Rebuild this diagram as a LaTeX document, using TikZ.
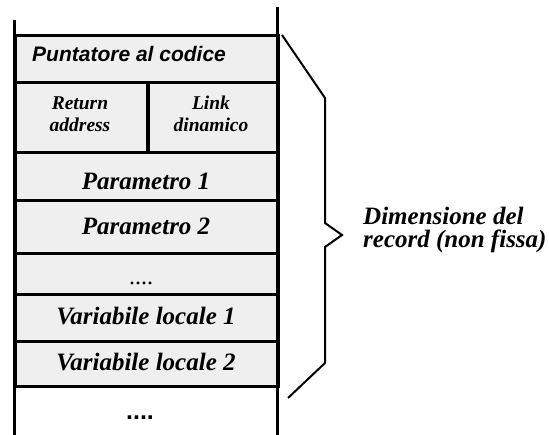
\documentclass[tikz,border=0pt]{standalone}
\usepackage{fontspec}
\setmainfont{Liberation Serif}
\newfontfamily\arialf{Liberation Sans}
\definecolor{cellgray}{HTML}{EFEFEF}
\begin{document}
\begin{tikzpicture}[x=1pt,y=-1pt,
  cell/.style={draw=black, line width=2.6pt, fill=cellgray, inner sep=0pt, anchor=north west},
  wall/.style={line width=3pt, line cap=rect},
  brace/.style={line width=2pt, line join=miter},
  lbl/.style={inner sep=0pt, anchor=base, font=\fontsize{25}{28}\selectfont\bfseries\itshape},
  small/.style={inner sep=0pt, anchor=base, align=center, font=\fontsize{19.5}{22}\selectfont\bfseries\itshape},
  side/.style={inner sep=0pt, anchor=base west, font=\fontsize{25}{28}\selectfont\bfseries\itshape}]
\useasboundingbox (0,0) rectangle (549,435);
% rows
\node[cell, minimum width=263pt, minimum height=47pt] (punt) at (14,34) {};
\node[cell, minimum width=133pt, minimum height=70pt] (ret) at (14,81) {};
\node[cell, minimum width=130pt, minimum height=70pt] (link) at (147,81) {};
\node[cell, minimum width=263pt, minimum height=48pt] (p1) at (14,151) {};
\node[cell, minimum width=263pt, minimum height=53pt] (p2) at (14,199) {};
\node[cell, minimum width=263pt, minimum height=41pt] (dd) at (14,252) {};
\node[cell, minimum width=263pt, minimum height=47pt] (v1) at (14,293) {};
\node[cell, minimum width=263pt, minimum height=45pt] (v2) at (14,340) {};
% divider extension
\coordinate (divtop) at (147,81);
\coordinate (divbot) at (147,154);
\draw[line width=2.6pt] (divtop) -- (divbot);
% outer walls
\coordinate (lt) at (14,22);
\coordinate (lb) at (14,435);
\coordinate (rt) at (277,9);
\coordinate (rb) at (277,435);
\draw[wall] (lt) -- (lb);
\draw[wall] (rt) -- (rb);
% labels
\node[inner sep=0pt, anchor=base west, font=\fontsize{21}{24}\selectfont\arialf\bfseries\itshape] (tpunt) at (32,62) {Puntatore al codice};
\node[small] (tret) at (80,110) {Return};
\node[small] (tret2) at (80,132) {address};
\node[small] (tlink) at (211,110) {Link};
\node[small] (tlink2) at (211,132) {dinamico};
\node[lbl] (tp1) at (146,190) {Parametro 1};
\node[lbl] (tp2) at (146,235) {Parametro 2};
\node[inner sep=0pt, anchor=base, font=\fontsize{24}{26}\selectfont] (tdd) at (141,285) {....};
\node[lbl] (tv1) at (146,325) {Variabile locale 1};
\node[lbl] (tv2) at (146,371) {Variabile locale 2};
\node[inner sep=0pt, anchor=base, font=\fontsize{25}{28}\selectfont\arialf\bfseries] (tend) at (140,420) {....};
% brace
\coordinate (bt) at (282,35);
\coordinate (b1) at (325,98);
\coordinate (b2) at (325,223);
\coordinate (btip) at (342,235);
\coordinate (b3) at (325,247);
\coordinate (b4) at (325,363);
\coordinate (bb) at (288,398);
\draw[brace] (bt) -- (b1) -- (b2) -- (btip) -- (b3) -- (b4) -- (bb);
\node[side] (dim1) at (363,225) {Dimensione del};
\node[side] (dim2) at (363,248) {record (non fissa)};
\end{tikzpicture}
\end{document}
